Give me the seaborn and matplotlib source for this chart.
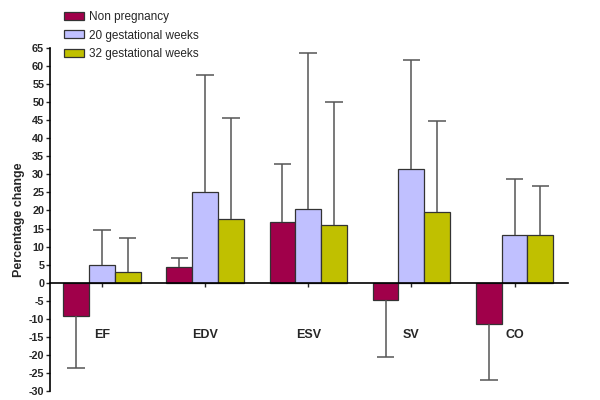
import numpy as np
import pandas as pd
import seaborn as sns
import matplotlib.pyplot as plt

measures = ['EF', 'EDV', 'ESV', 'SV', 'CO']
groups = ['Non pregnancy', '20 gestational weeks', '32 gestational weeks']

non_preg = [-9.1, 4.4, 16.7, -4.9, -11.4]
non_preg_err = [-23.6, 6.7, 33.0, -20.5, -26.9]
wk20 = [4.8, 25.0, 20.3, 31.6, 13.1]
wk20_err = [14.6, 57.4, 63.7, 61.8, 28.8]
wk32 = [2.9, 17.6, 16.0, 19.7, 13.3]
wk32_err = [12.5, 45.7, 50.0, 44.9, 26.7]

colors = ['#A0004A', '#C0C0FF', '#C0C000']

df = pd.DataFrame({
    'measure': measures * 3,
    'group': [g for g in groups for _ in measures],
    'value': non_preg + wk20 + wk32,
    'end': non_preg_err + wk20_err + wk32_err,
})

sns.set_style('white')
plt.rcParams['font.family'] = ['Liberation Sans', 'DejaVu Sans']
plt.rcParams['axes.unicode_minus'] = False

fig = plt.figure(figsize=(6, 4), dpi=100)
ax = fig.add_axes([0.083, 0.0225, 0.864, 0.8575])

sns.barplot(data=df, x='measure', y='value', hue='group', order=measures,
            hue_order=groups, palette=colors, errorbar=None, width=0.75,
            edgecolor='#333333', linewidth=0.9, saturation=1, ax=ax)

# one-sided error bars with caps
ends = [non_preg_err, wk20_err, wk32_err]
vals = [non_preg, wk20, wk32]
for cont, v, e in zip(ax.containers, vals, ends):
    for bar, val, end in zip(cont, v, e):
        xc = bar.get_x() + bar.get_width() / 2
        ax.vlines(xc, val, end, color='#555555', lw=1.1, zorder=1)
        ax.hlines(end, xc - 0.085, xc + 0.085, color='#555555', lw=1.1, zorder=1)

ax.set_xlim(-0.505, 4.52)
ax.set_ylim(-30, 65)
ax.set_yticks(np.arange(-30, 66, 5))
ax.spines['top'].set_visible(False)
ax.spines['right'].set_visible(False)
ax.spines['bottom'].set_position(('data', 0))
ax.spines['bottom'].set_linewidth(1.2)
ax.spines['left'].set_linewidth(1.2)
ax.spines['bottom'].set_color('black')
ax.spines['left'].set_color('black')
ax.tick_params(axis='y', left=True, length=3, width=1, labelsize=7.8, pad=1)
ax.tick_params(axis='x', bottom=True, length=3, width=1, labelsize=9, pad=30)
for lab in ax.get_yticklabels() + ax.get_xticklabels():
    lab.set_fontweight('bold')
ax.set_xlabel('')
ax.set_ylabel('Percentage change', fontsize=9, fontweight='bold', labelpad=3)

ax.legend(loc='upper left', bbox_to_anchor=(0.095, 0.99), bbox_transform=fig.transFigure,
          frameon=False, fontsize=8.5, handlelength=1.7, handleheight=0.65,
          labelspacing=0.55, handletextpad=0.4, borderaxespad=0.2)

fig.savefig('out.png', dpi=100)
